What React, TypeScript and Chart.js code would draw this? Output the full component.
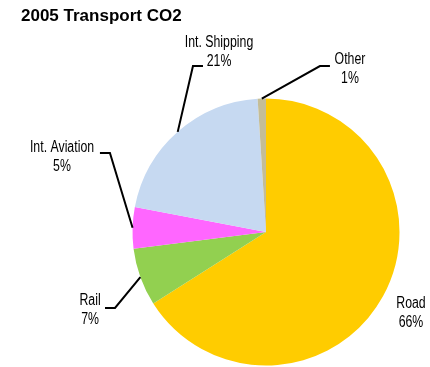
import React, { useEffect, useRef } from "react";
import { Chart, registerables } from "chart.js";

Chart.register(...registerables);

const TITLE = "2005 Transport CO2";
const categories = ["Road", "Rail", "Int. Aviation", "Int. Shipping", "Other"];
const shares = [66, 7, 5, 21, 1];
const colors = ["#FFCC00", "#92D050", "#FF66FF", "#C6D9F1", "#C4BD97"];

// label placement, in units of the pie radius relative to its centre
const labelText = [
  { tx: 1.086, ty: 0.607 },
  { tx: -1.318, ty: 0.588 },
  { tx: -1.528, ty: -0.558 },
  { tx: -0.352, ty: -1.345 },
  { tx: 0.629, ty: -1.221 },
];
const labelElbow = [
  null,
  { ex: -1.131, ey: 0.569, stub: -10 },
  { ex: -1.169, ey: -0.592, stub: -10 },
  { ex: -0.547, ey: -1.243, stub: 10 },
  { ex: 0.404, ey: -1.243, stub: 10 },
];

const LABEL_FONT = '16px "Liberation Sans", Arial, sans-serif';
const LABEL_SQUEEZE = 0.77;
const TITLE_FONT = 'bold 17px "Liberation Sans", Arial, sans-serif';

const labelPlugin = {
  id: "pieLabels",
  afterDraw(chart: any) {
    const ctx = chart.ctx;
    const meta = chart.getDatasetMeta(0);
    const data = chart.data.datasets[0].data as number[];
    const total = data.reduce((a, b) => a + b, 0);
    ctx.save();
    // title
    ctx.font = TITLE_FONT;
    ctx.fillStyle = "#000";
    ctx.textAlign = "left";
    ctx.textBaseline = "alphabetic";
    ctx.fillText(TITLE, 21, 21);

    meta.data.forEach((arc: any, i: number) => {
      const { x, y, startAngle, endAngle, outerRadius } = arc.getProps(
        ["x", "y", "startAngle", "endAngle", "outerRadius"],
        true
      );
      const r = outerRadius;
      const mid = (startAngle + endAngle) / 2;
      const px = x + Math.cos(mid) * r;
      const py = y + Math.sin(mid) * r;
      const el = labelElbow[i];
      if (el) {
        const exx = x + el.ex * r;
        const eyy = y + el.ey * r;
        ctx.beginPath();
        ctx.strokeStyle = "#000";
        ctx.lineWidth = 2;
        ctx.moveTo(px, py);
        ctx.lineTo(exx, eyy);
        ctx.lineTo(exx + el.stub, eyy);
        ctx.stroke();
      }
      const lt = labelText[i];
      const cx = x + lt.tx * r;
      const cy = y + lt.ty * r;
      const pct = Math.round((data[i] / total) * 100) + "%";
      ctx.save();
      ctx.translate(cx, cy);
      ctx.scale(LABEL_SQUEEZE, 1);
      ctx.font = LABEL_FONT;
      ctx.fillStyle = "#000";
      ctx.textAlign = "center";
      ctx.textBaseline = "middle";
      ctx.fillText(String(chart.data.labels[i]), 0, -9.5);
      ctx.fillText(pct, 0, 9.5);
      ctx.restore();
    });
    ctx.restore();
  },
};

export default function App() {
  const ref = useRef<HTMLCanvasElement>(null);
  useEffect(() => {
    if (!ref.current) return;
    const chart = new Chart(ref.current, {
      type: "pie",
      data: {
        labels: categories,
        datasets: [
          {
            data: shares,
            backgroundColor: colors,
            borderWidth: 0,
          },
        ],
      },
      options: {
        responsive: false,
        animation: false,
        layout: { padding: { left: 132.5, right: 30.5, top: 98.5, bottom: 1.5 } },
        plugins: {
          legend: { display: false },
          tooltip: { enabled: false },
          title: { display: false },
        },
      },
      plugins: [labelPlugin],
    });
    return () => chart.destroy();
  }, []);
  return (
    <div style={{ position: "fixed", left: 0, top: 0, width: 430, height: 367, background: "#fff" }}>
      <canvas ref={ref} width={430} height={367} style={{ width: 430, height: 367 }} />
    </div>
  );
}
